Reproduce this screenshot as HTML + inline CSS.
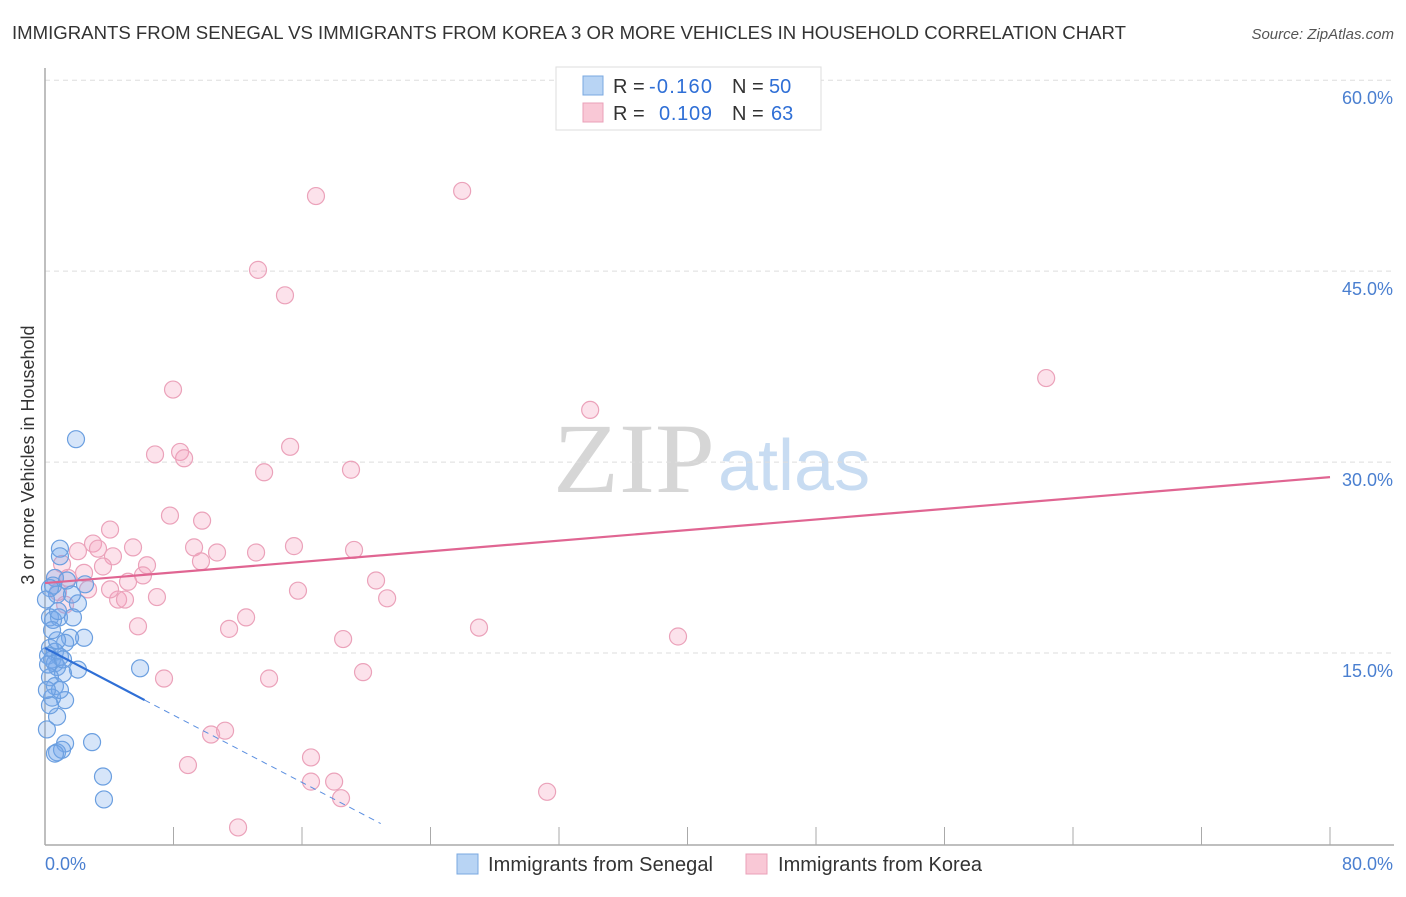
<!DOCTYPE html>
<html><head><meta charset="utf-8"><style>
body{margin:0;background:#fff;font-family:"Liberation Sans",sans-serif;}
svg text{font-family:"Liberation Sans",sans-serif;}
</style></head><body>
<svg width="1406" height="892" viewBox="0 0 1406 892">
<text x="12" y="39" font-size="18.5" fill="#333" textLength="1114" lengthAdjust="spacingAndGlyphs">IMMIGRANTS FROM SENEGAL VS IMMIGRANTS FROM KOREA 3 OR MORE VEHICLES IN HOUSEHOLD CORRELATION CHART</text>
<text x="1394" y="39" font-size="15" fill="#555" font-style="italic" text-anchor="end">Source: ZipAtlas.com</text>
<g>
<text x="553" y="492" font-size="100" fill="#d6d6d6" style="font-family:'Liberation Serif',serif" textLength="162" lengthAdjust="spacingAndGlyphs">ZIP</text>
<text x="718" y="490" font-size="72" fill="#c8dcf2">atlas</text>
</g>
<g id="grid"></g>
<g id="axes"></g>
<g id="marks"></g>
<text transform="translate(34,455) rotate(-90)" font-size="18" fill="#333" text-anchor="middle">3 or more Vehicles in Household</text>
<text x="45" y="870" font-size="18" fill="#4a7fd0">0.0%</text>
<text x="1393" y="870" font-size="18" fill="#4a7fd0" text-anchor="end">80.0%</text>
<g>
<rect x="556" y="67" width="265" height="63" fill="#fff" stroke="#ddd"/>
<rect x="583" y="76" width="20" height="19" fill="#b8d4f4" stroke="#7aa8e0"/>
<rect x="583" y="103" width="20" height="19" fill="#f9c8d6" stroke="#eaa0b8"/>
<text x="613" y="93" font-size="20" fill="#333">R =</text>
<text x="649" y="93" font-size="20" fill="#2f6fd6" textLength="63">-0.160</text>
<text x="732" y="93" font-size="20" fill="#333">N =</text>
<text x="769" y="93" font-size="20" fill="#2f6fd6">50</text>
<text x="613" y="120" font-size="20" fill="#333">R =</text>
<text x="659" y="120" font-size="20" fill="#2f6fd6" textLength="53">0.109</text>
<text x="732" y="120" font-size="20" fill="#333">N =</text>
<text x="771" y="120" font-size="20" fill="#2f6fd6">63</text>
</g>
<g>
<rect x="457" y="854" width="21" height="20" fill="#b8d4f4" stroke="#7aa8e0"/>
<text x="488" y="871" font-size="20" fill="#333" textLength="225">Immigrants from Senegal</text>
<rect x="746" y="854" width="21" height="20" fill="#f9c8d6" stroke="#eaa0b8"/>
<text x="778" y="871" font-size="20" fill="#333" textLength="204">Immigrants from Korea</text>
</g>
</svg>
<script>
const yTicks=[15,30,45,60];
const yTickLabels=["15.0%","30.0%","45.0%","60.0%"];
const xTicks=[0,8,16,24,32,40,48,56,64,72,80];
const senegalX=[1.93,0.93,0.93,0.62,0.5,2.49,0.75,2.05,0.31,0.87,1.74,2.43,1.56,1.25,0.31,0.62,0.19,0.93,0.44,0.62,0.75,2.05,1.12,0.31,0.62,1.25,0.44,0.75,0.12,1.25,2.93,0.75,1.06,0.62,3.61,3.67,5.92,0.31,0.5,0.19,1.37,1.68,0.75,0.31,0.93,0.12,0.44,0.81,0.06,1.12];
const senegalY=[31.8,23.2,22.6,20.9,20.3,20.4,19.6,18.9,17.8,17.8,17.8,16.2,16.2,15.8,15.4,15.1,14.8,14.7,14.5,14.2,13.9,13.7,13.4,13.1,12.4,11.3,11.5,10.0,9.0,7.9,8.0,7.2,7.4,7.1,5.3,3.5,13.8,20.1,17.6,14.1,20.7,19.6,16.0,10.9,12.1,12.1,16.8,18.3,19.2,14.5];
const koreaX=[16.87,25.97,13.26,14.94,62.33,33.94,7.97,6.85,8.41,8.66,15.26,13.64,19.05,7.78,9.78,4.05,2.99,3.3,2.05,5.48,9.28,15.5,13.14,10.71,19.24,4.23,6.35,9.71,3.61,2.43,1.06,6.1,1.43,0.62,5.17,20.61,2.68,4.55,4.98,6.97,15.75,21.3,1.25,5.79,12.52,11.46,18.56,27.02,39.41,7.41,13.95,19.8,10.34,11.21,8.9,16.56,16.56,18.0,18.43,31.26,12.02,0.81,4.05];
const koreaY=[50.9,51.3,45.1,43.1,36.6,34.1,35.7,30.6,30.8,30.3,31.2,29.2,29.4,25.8,25.4,24.7,23.6,23.2,23.0,23.3,23.3,23.4,22.9,22.9,23.1,22.6,21.9,22.2,21.8,21.3,22.0,21.1,20.9,20.9,20.6,20.7,20.0,19.2,19.2,19.4,19.9,19.3,18.8,17.1,17.8,16.9,16.1,17.0,16.3,13.0,13.0,13.5,8.6,8.9,6.2,6.8,4.9,4.9,3.6,4.1,1.3,19.8,20.0];
const senegalTrend=[15.4,-0.66];
const koreaTrend=[20.5,0.104];
const NS="http://www.w3.org/2000/svg";
const X0=45,X1=1330,Y0=844,PXY=12.73;
function sx(v){return X0+(X1-X0)*v/80;}
function sy(v){return Y0-v*PXY;}
function mk(tag,attrs,parent){const e=document.createElementNS(NS,tag);for(const k in attrs)e.setAttribute(k,attrs[k]);parent.appendChild(e);return e;}
const grid=document.getElementById('grid'),axes=document.getElementById('axes'),marks=document.getElementById('marks');
yTicks.forEach((t,i)=>{
 const l=mk('line',{x1:X0,x2:1394,y1:sy(t),y2:sy(t),stroke:'#ddd','stroke-dasharray':'5,4'},grid);
 
 
 const tx=mk('text',{x:1393,y:sy(t)+24,'font-size':18,fill:'#4a7fd0','text-anchor':'end'},axes);
 tx.textContent=yTickLabels[i];
 
 
});
const ya=mk('line',{x1:X0,x2:X0,y1:68,y2:845,stroke:'#aaa','stroke-width':1.5},axes);


const xa=mk('line',{x1:X0,x2:1394,y1:845,y2:845,stroke:'#aaa','stroke-width':1.5},axes);


xTicks.forEach(t=>{
 const l=mk('line',{x1:sx(t),x2:sx(t),y1:827,y2:845,stroke:'#aaa'},axes);
 
 
});
koreaX.forEach((v,i)=>{
 const c=mk('circle',{cx:sx(v),cy:sy(koreaY[i]),r:8.5,fill:'rgba(244,160,188,0.3)',stroke:'#eba2ba','stroke-width':1.2},marks);
 
 
});
senegalX.forEach((v,i)=>{
 const c=mk('circle',{cx:sx(v),cy:sy(senegalY[i]),r:8.5,fill:'rgba(120,170,235,0.3)',stroke:'#6b9fe0','stroke-width':1.2},marks);
 
 
});
const kt=mk('line',{x1:sx(0),y1:sy(koreaTrend[0]),x2:sx(80),y2:sy(koreaTrend[0]+80*koreaTrend[1]),stroke:'#e06592','stroke-width':2.2},marks);


const xe=6.2,xd=20.9;
const st=mk('line',{x1:sx(0),y1:sy(senegalTrend[0]),x2:sx(xe),y2:sy(senegalTrend[0]+xe*senegalTrend[1]),stroke:'#2f6fd6','stroke-width':2.2},marks);


const sd=mk('line',{x1:sx(xe),y1:sy(senegalTrend[0]+xe*senegalTrend[1]),x2:sx(xd),y2:sy(senegalTrend[0]+xd*senegalTrend[1]),stroke:'#5b8fe0','stroke-width':1,'stroke-dasharray':'6,5'},marks);


</script>
</body></html>
